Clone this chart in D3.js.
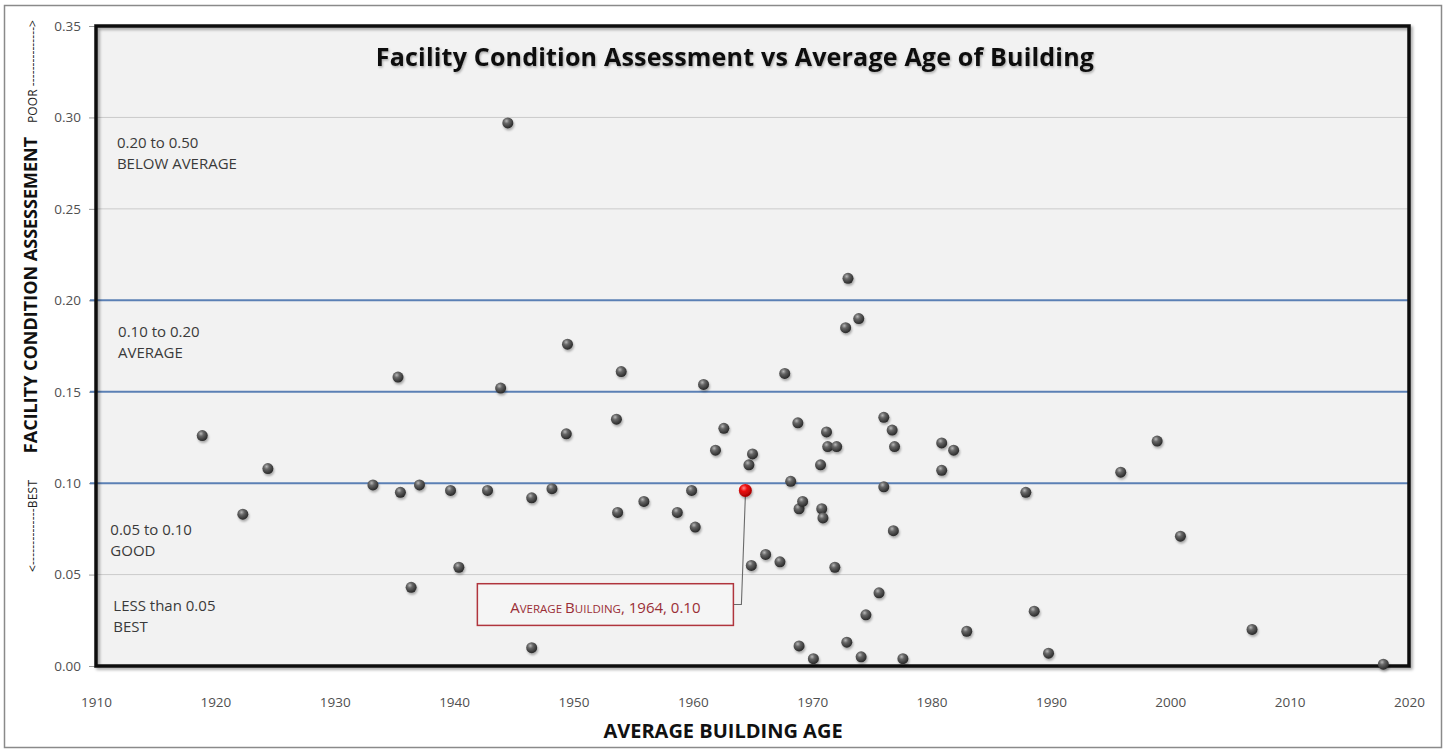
<!DOCTYPE html>
<html><head><meta charset="utf-8">
<script src="https://cdn.jsdelivr.net/npm/d3@7"></script>
<style>body{margin:0;background:#fff}svg{display:block}</style>
</head><body>
<svg id="chart" width="1448" height="753"></svg>
<script>
// ---- data ----
const years = [1918.9,1922.3,1924.4,1933.2,1935.3,1935.5,1936.4,1937.1,1939.7,1940.4,1942.8,1943.9,1944.5,1946.5,1946.5,1948.2,1949.4,1949.5,1953.6,1953.7,1954.0,1955.9,1958.7,1959.9,1960.2,1960.9,1961.9,1962.6,1964.7,1964.9,1965.0,1966.1,1967.3,1967.7,1968.2,1968.8,1968.9,1968.9,1969.2,1970.1,1970.7,1970.8,1970.9,1971.2,1971.3,1971.9,1972.05,1972.8,1972.9,1973.0,1973.9,1974.1,1974.5,1975.6,1976.0,1976.0,1976.7,1976.8,1976.9,1977.6,1980.85,1980.85,1981.85,1982.95,1987.9,1988.6,1989.8,1995.85,1998.9,2000.85,2006.85,2017.85];
const fca   = [0.126,0.083,0.108,0.099,0.158,0.095,0.043,0.099,0.096,0.054,0.096,0.152,0.297,0.092,0.010,0.097,0.127,0.176,0.135,0.084,0.161,0.090,0.084,0.096,0.076,0.154,0.118,0.130,0.110,0.055,0.116,0.061,0.057,0.160,0.101,0.133,0.086,0.011,0.090,0.004,0.110,0.086,0.081,0.128,0.120,0.054,0.120,0.185,0.013,0.212,0.190,0.005,0.028,0.040,0.136,0.098,0.129,0.074,0.120,0.004,0.122,0.107,0.118,0.019,0.095,0.030,0.007,0.106,0.123,0.071,0.020,0.001];
const avgYear = 1964.4, avgFca = 0.096;
const xTicks = [1910,1920,1930,1940,1950,1960,1970,1980,1990,2000,2010,2020];
const yTicks = [0,0.05,0.10,0.15,0.20,0.25,0.30,0.35];
const bandLines = [0.10,0.15,0.20];
const greyLines = [0.05,0.25,0.30];
const zoneLine1 = ["0.20 to 0.50","0.10 to 0.20","0.05 to 0.10","LESS than 0.05"];
const zoneLine2 = ["BELOW AVERAGE","AVERAGE","GOOD","BEST"];
const avgLabel = [["A",1],["VERAGE ",0],["B",1],["UILDING",0],[", 1964, 0.10",1]];
const titleText = "Facility Condition Assessment vs Average Age of Building";
const xTitle = "AVERAGE BUILDING AGE";
const yTitle = "FACILITY CONDITION ASSESSEMENT";
const poorText = "POOR --------------->";
const bestText = "<--------------BEST";

// ---- layout ----
const W = 1448, H = 753;
const L = 96, R = 1409, T = 26, B = 666;
const zoneX = [1911.75,1911.85,1911.2,1911.45];
const zoneY = [0.2833,0.1799,0.0716,0.0301];
const font = "'Open Sans', 'DejaVu Sans', sans-serif";

const svg = d3.select("#chart");
const x = d3.scaleLinear().domain([1910,2020]).range([L,R]);
const y = d3.scaleLinear().domain([0,0.35]).range([B,T]);

const defs = svg.append("defs");
const g1 = defs.append("radialGradient").attr("id","ball").attr("cx","38%").attr("cy","32%").attr("r","70%");
g1.append("stop").attr("offset","0%").attr("stop-color","#b8b8b8");
g1.append("stop").attr("offset","35%").attr("stop-color","#666");
g1.append("stop").attr("offset","100%").attr("stop-color","#262626");
const g2 = defs.append("radialGradient").attr("id","redball").attr("cx","38%").attr("cy","32%").attr("r","70%");
g2.append("stop").attr("offset","0%").attr("stop-color","#ff8a8a");
g2.append("stop").attr("offset","35%").attr("stop-color","#ee1111");
g2.append("stop").attr("offset","100%").attr("stop-color","#a00000");
const f1 = defs.append("filter").attr("id","sh").attr("x","-50%").attr("y","-50%").attr("width","200%").attr("height","200%");
f1.append("feDropShadow").attr("dx",1).attr("dy",2).attr("stdDeviation",1.3).attr("flood-color","#000").attr("flood-opacity",0.3);
const f2 = defs.append("filter").attr("id","bsh").attr("x","-5%").attr("y","-5%").attr("width","110%").attr("height","110%");
f2.append("feDropShadow").attr("dx",2).attr("dy",2).attr("stdDeviation",1.5).attr("flood-color","#000").attr("flood-opacity",0.35);
const f3 = defs.append("filter").attr("id","tsh").attr("x","-5%").attr("y","-30%").attr("width","110%").attr("height","160%");
f3.append("feDropShadow").attr("dx",1).attr("dy",1.5).attr("stdDeviation",1.2).attr("flood-color","#000").attr("flood-opacity",0.3);

// outer frame
svg.append("rect").attr("x",4.5).attr("y",5.5).attr("width",1437).attr("height",742)
  .attr("fill","#fff").attr("stroke","#8a8a8a").attr("stroke-width",1.5);

// plot background
svg.append("rect").attr("x",L).attr("y",T).attr("width",R-L).attr("height",B-T).attr("fill","#f2f2f2");

// grey gridlines
svg.append("g").selectAll("line").data(greyLines).join("line")
  .attr("x1",L).attr("x2",R).attr("y1",d=>y(d)).attr("y2",d=>y(d))
  .attr("stroke","#cbcbcb").attr("stroke-width",1);

// y axis ticks & labels
const yAxis = d3.axisLeft(y).tickValues(yTicks).tickFormat(d3.format(".2f")).tickSize(6).tickPadding(8);
const ya = svg.append("g").attr("transform",`translate(${L-1},0)`).call(yAxis);
ya.select(".domain").remove();
ya.selectAll(".tick line").attr("stroke","#9a9a9a");
ya.selectAll(".tick text").attr("fill","#505050").attr("font-family",font).attr("font-size",13.5);

// x axis labels
const xAxis = d3.axisBottom(x).tickValues(xTicks).tickFormat(d3.format("d")).tickSize(0).tickPadding(31);
const xa = svg.append("g").attr("transform",`translate(0,${B})`).call(xAxis);
xa.select(".domain").remove();
xa.selectAll(".tick text").attr("fill","#505050").attr("font-family",font).attr("font-size",13.5);

// blue band lines
svg.append("g").selectAll("line").data(bandLines).join("line")
  .attr("x1",L-6).attr("x2",R).attr("y1",d=>y(d)).attr("y2",d=>y(d))
  .attr("stroke","#5b80b5").attr("stroke-width",2);

// zone labels
const zl = svg.append("g").attr("font-family",font).attr("font-size",15).attr("fill","#3a3a3a");
zoneLine1.forEach((t,i)=>{
  zl.append("text").attr("x",x(zoneX[i])).attr("y",y(zoneY[i])).text(t);
  zl.append("text").attr("x",x(zoneX[i])).attr("y",y(zoneY[i])+21).text(zoneLine2[i]);
});

// plot border
svg.append("rect").attr("x",L).attr("y",T).attr("width",R-L).attr("height",B-T)
  .attr("fill","none").attr("stroke","#0a0a0a").attr("stroke-width",3.5).attr("filter","url(#bsh)");

// points
const pts = years.map((d,i)=>({x:d,y:fca[i]}));
svg.append("g").selectAll("circle").data(pts).join("circle")
  .attr("cx",d=>x(d.x)).attr("cy",d=>y(d.y)).attr("r",5.5)
  .attr("fill","url(#ball)").attr("filter","url(#sh)");

// annotation
const bx0 = x(1941.95), bx1 = x(1963.4), by0 = y(0.0450), by1 = y(0.0222);
const bmid = (by0+by1)/2;
svg.append("path")
  .attr("d",`M${bx1},${bmid} L${bx1+8},${bmid} L${x(avgYear)},${y(avgFca)+6}`)
  .attr("fill","none").attr("stroke","#6a6a6a").attr("stroke-width",1.1);
svg.append("rect").attr("x",bx0).attr("y",by0).attr("width",bx1-bx0).attr("height",by1-by0)
  .attr("fill","#f5f5f5").attr("stroke","#b0353d").attr("stroke-width",1.5);
const at = svg.append("text").attr("x",(bx0+bx1)/2).attr("y",bmid+8).attr("text-anchor","middle")
  .attr("font-family",font).attr("fill","#9a2e36");
avgLabel.forEach(([t,big])=>at.append("tspan").attr("font-size",big?15:11.5).text(t));

svg.append("circle").attr("cx",x(avgYear)).attr("cy",y(avgFca)).attr("r",6.5)
  .attr("fill","url(#redball)").attr("filter","url(#sh)");

// title
svg.append("text").attr("x",735).attr("y",66).attr("text-anchor","middle")
  .attr("font-family",font).attr("font-weight",700).attr("font-size",25).attr("letter-spacing",0.2)
  .attr("fill","#111").attr("filter","url(#tsh)").text(titleText);

// axis titles
svg.append("text").attr("x",723).attr("y",738).attr("text-anchor","middle")
  .attr("font-family",font).attr("font-weight",700).attr("font-size",20).attr("fill","#111").text(xTitle);
svg.append("text").attr("transform","translate(37,295) rotate(-90)").attr("text-anchor","middle")
  .attr("font-family",font).attr("font-weight",700).attr("font-size",18).attr("fill","#111").text(yTitle);
svg.append("text").attr("transform","translate(36.5,71.5) rotate(-90)").attr("text-anchor","middle")
  .attr("font-family",font).attr("font-size",12).attr("fill","#222")
  .attr("textLength",103).attr("lengthAdjust","spacing").text(poorText);
svg.append("text").attr("transform","translate(36.5,526) rotate(-90)").attr("text-anchor","middle")
  .attr("font-family",font).attr("font-size",12).attr("fill","#222")
  .attr("textLength",92).attr("lengthAdjust","spacing").text(bestText);
</script>
</body></html>
